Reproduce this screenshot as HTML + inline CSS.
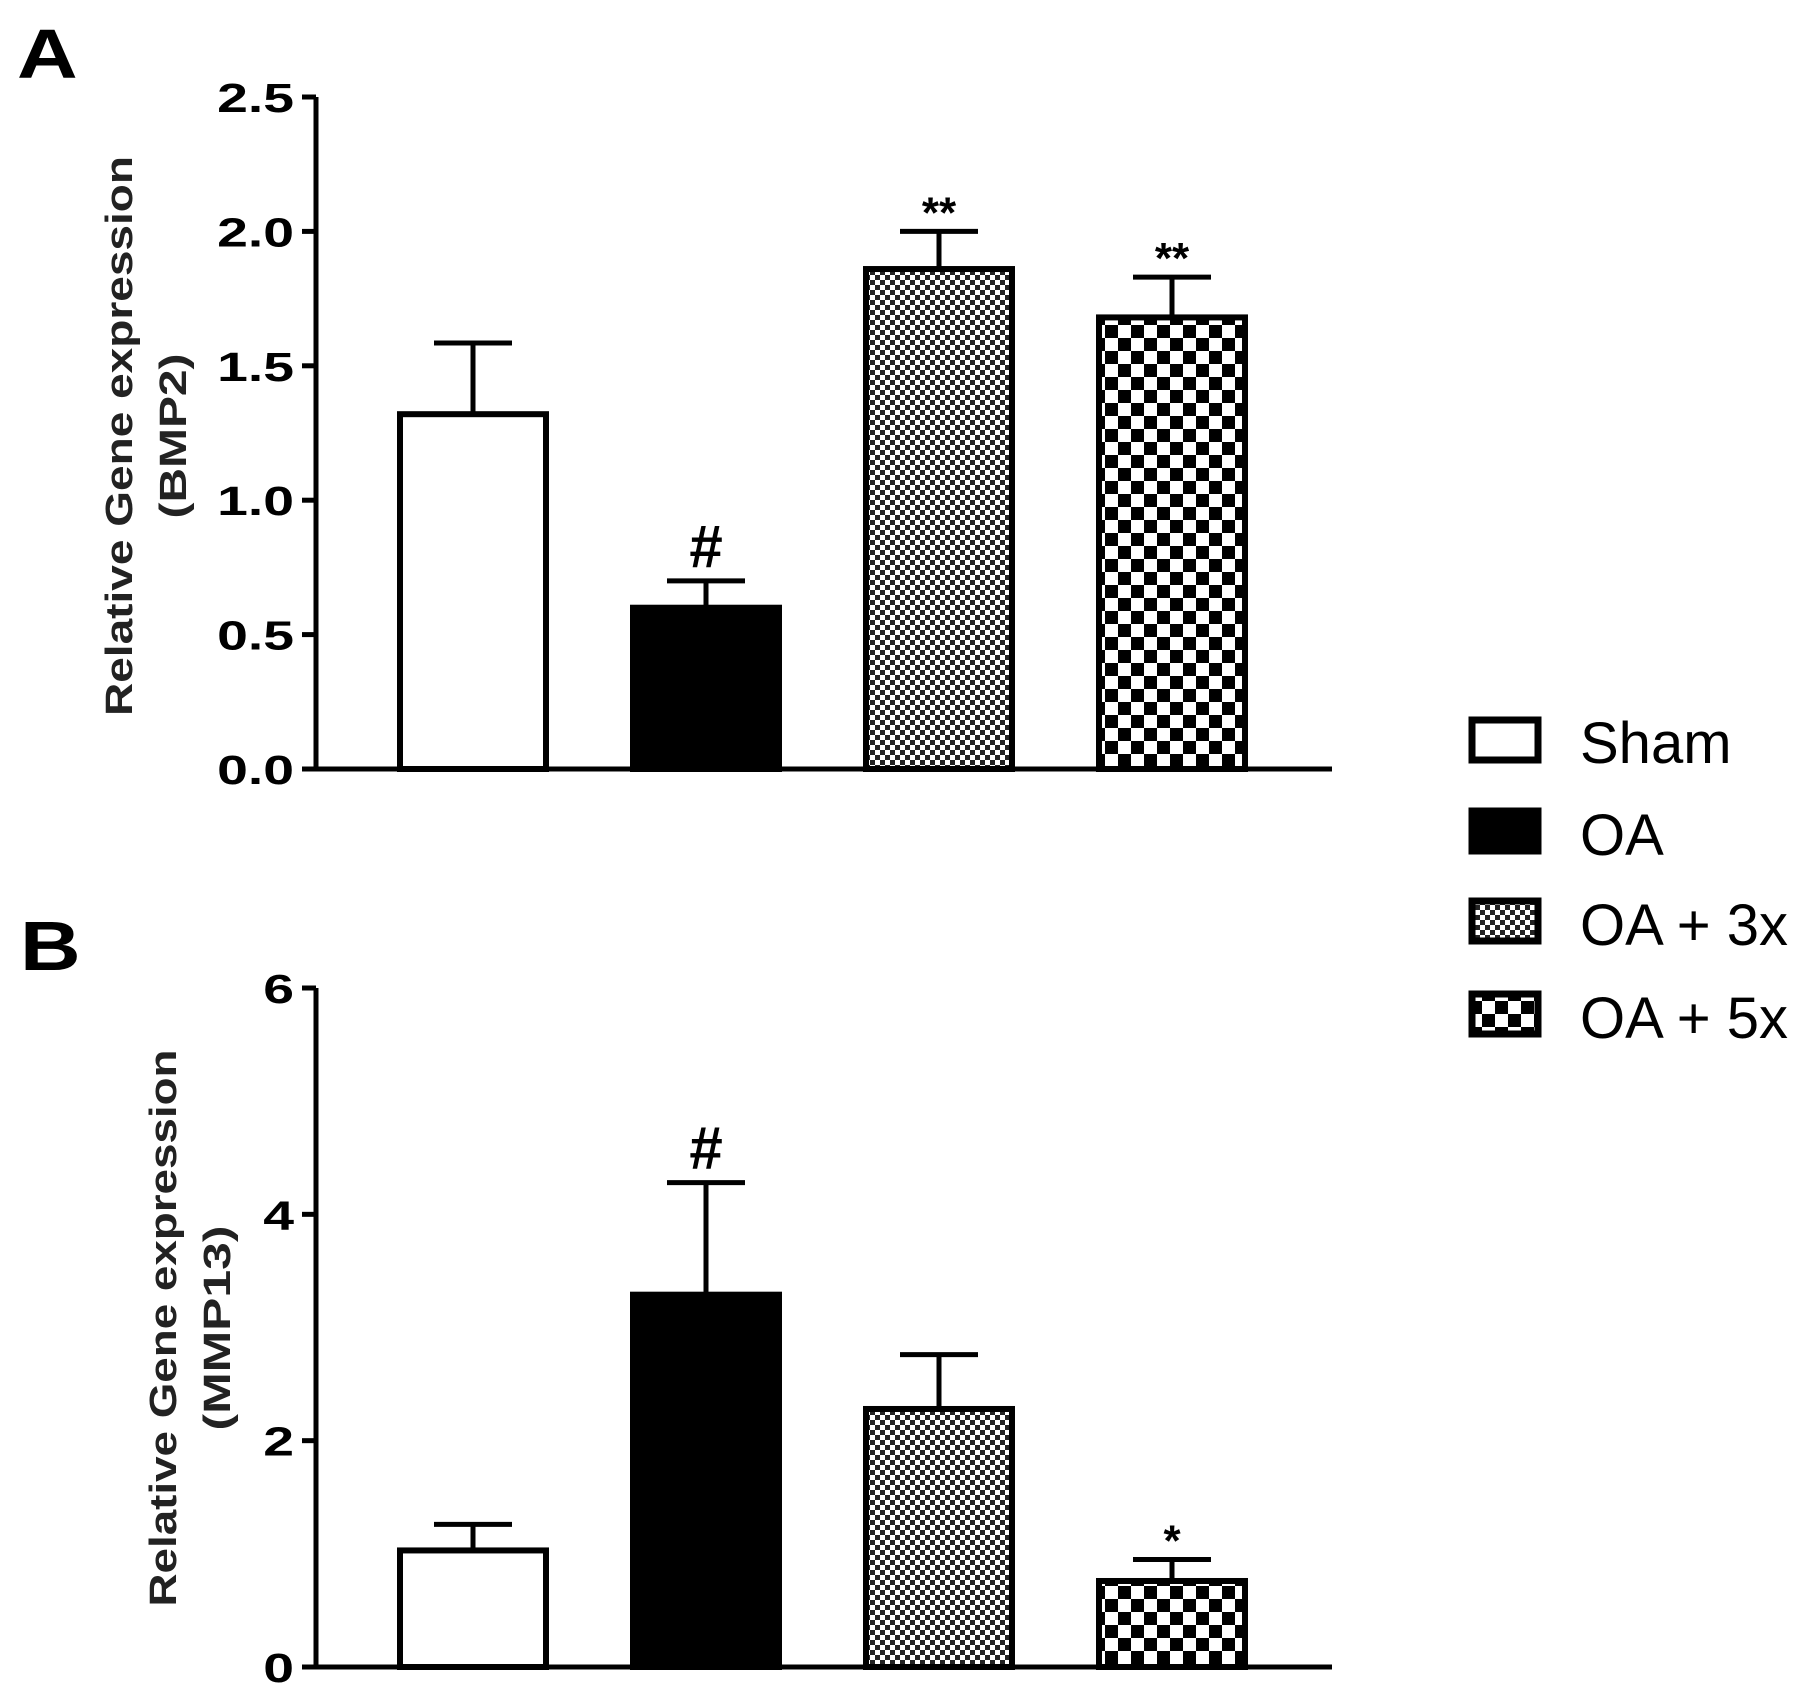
<!DOCTYPE html>
<html><head><meta charset="utf-8"><style>
body{margin:0;background:#fff}
svg{display:block;font-family:"Liberation Sans",Arial,sans-serif}
</style></head><body>
<svg id="fig" width="1819" height="1700" viewBox="0 0 1819 1700">
<defs>
<pattern id="fine" width="10" height="10" patternUnits="userSpaceOnUse">
<rect width="10" height="10" fill="#fff"/><rect width="5" height="5" fill="#222"/><rect x="5" y="5" width="5" height="5" fill="#222"/>
</pattern>
<pattern id="coarse" width="26" height="26" patternUnits="userSpaceOnUse">
<rect width="26" height="26" fill="#fff"/><rect width="13" height="13" fill="#000"/><rect x="13" y="13" width="13" height="13" fill="#000"/>
</pattern>
</defs>
<text transform="translate(17,78) scale(1.2,1)" font-size="70" font-weight="bold">A</text>
<text transform="translate(20,970) scale(1.2,1)" font-size="70" font-weight="bold">B</text>
<g id="pa"></g>
<g id="pb"></g>
<g>
<rect x="1472" y="720" width="66" height="40" fill="#fff" stroke="#000" stroke-width="7"/>
<text x="1580" y="763" font-size="58">Sham</text>
<rect x="1472" y="811" width="66" height="40" fill="#000" stroke="#000" stroke-width="7"/>
<text x="1580" y="855" font-size="58">OA</text>
<rect x="1472" y="901" width="66" height="40" fill="url(#fine)" stroke="#000" stroke-width="7"/>
<text x="1580" y="945" font-size="58">OA + 3x</text>
<rect x="1472" y="994" width="66" height="40" fill="url(#coarse)" stroke="#000" stroke-width="7"/>
<text x="1580" y="1038" font-size="58">OA + 5x</text>
</g>
</svg>
<script>
const groups = ["Sham","OA","OA + 3x","OA + 5x"];
const fills = ["#fff","#000","url(#fine)","url(#coarse)"];
const bmp2Means = [1.32, 0.60, 1.86, 1.68];
const bmp2Errs = [0.265, 0.10, 0.14, 0.15];
const bmp2Marks = ["", "#", "**", "**"];
const bmp2Ticks = [0, 0.5, 1.0, 1.5, 2.0, 2.5];
const bmp2TickLabels = ["0.0","0.5","1.0","1.5","2.0","2.5"];
const mmpMeans = [1.03, 3.29, 2.28, 0.76];
const mmpErrs = [0.23, 0.99, 0.48, 0.19];
const mmpMarks = ["", "#", "", "*"];
const mmpTicks = [0, 2, 4, 6];
const mmpTickLabels = ["0","2","4","6"];
const NS="http://www.w3.org/2000/svg";
function mk(p,t,a){const e=document.createElementNS(NS,t);for(const k in a)e.setAttribute(k,a[k]);p.appendChild(e);return e;}
function draw(g,o){
  const x0=316,x1=1332,y=v=>o.yb-(v/o.max)*(o.yb-o.yt);
  const xc=i=>473+i*233;
  const ax=mk(g,'line',{x1:x0,y1:o.yt,x2:x0,y2:o.yb,stroke:'#000','stroke-width':5});
  
  
  const bx=mk(g,'line',{x1:x0-2,y1:o.yb,x2:x1,y2:o.yb,stroke:'#000','stroke-width':5});
  
  
  o.ticks.forEach((t,i)=>{
    const tk=mk(g,'line',{x1:x0-14,y1:y(t),x2:x0,y2:y(t),stroke:'#000','stroke-width':5});
    
    
    const tl=mk(g,'text',{transform:`translate(${x0-22},${y(t)+15}) scale(1.35,1)`,'font-size':41,'font-weight':'bold','text-anchor':'end'});
    tl.textContent=o.labels[i];
    
    
  });
  const tt=mk(g,'text',{transform:`translate(${o.tx},${o.ty}) rotate(-90)`,'font-size':38,'font-weight':'bold','text-anchor':'middle',fill:'#222'});
  
  
  const s1=mk(tt,'tspan',{x:0,y:0,textLength:o.tl,lengthAdjust:'spacingAndGlyphs'});s1.textContent='Relative Gene expression';
  const s2=mk(tt,'tspan',{x:0,y:54,textLength:o.tl2,lengthAdjust:'spacingAndGlyphs'});s2.textContent=o.gene;
  o.means.forEach((m,i)=>{
    const c=xc(i),top=y(m),cap=y(m+o.errs[i]);
    const el=mk(g,'line',{x1:c,y1:top,x2:c,y2:cap,stroke:'#000','stroke-width':5});
    
    
    const cl=mk(g,'line',{x1:c-39,y1:cap,x2:c+39,y2:cap,stroke:'#000','stroke-width':5});
    
    
    const r=mk(g,'rect',{x:c-73,y:top,width:146,height:o.yb-top,fill:fills[i],stroke:'#000','stroke-width':6});
    
    
    if(o.marks[i]){
      const mt=mk(g,'text',{x:c,y:cap-(o.marks[i]=='#'?14:4),'font-size':o.marks[i]=='#'?60:44,'font-weight':'bold','text-anchor':'middle'});
      mt.textContent=o.marks[i];
      
      
    }
  });
}
draw(document.getElementById('pa'),{yt:97,yb:769,max:2.5,ticks:bmp2Ticks,labels:bmp2TickLabels,means:bmp2Means,errs:bmp2Errs,marks:bmp2Marks,gene:'(BMP2)',tx:132,ty:436,tl:560,tl2:165});
draw(document.getElementById('pb'),{yt:988,yb:1667,max:6,ticks:mmpTicks,labels:mmpTickLabels,means:mmpMeans,errs:mmpErrs,marks:mmpMarks,gene:'(MMP13)',tx:176,ty:1328,tl:557,tl2:205});
</script>
</body></html>
